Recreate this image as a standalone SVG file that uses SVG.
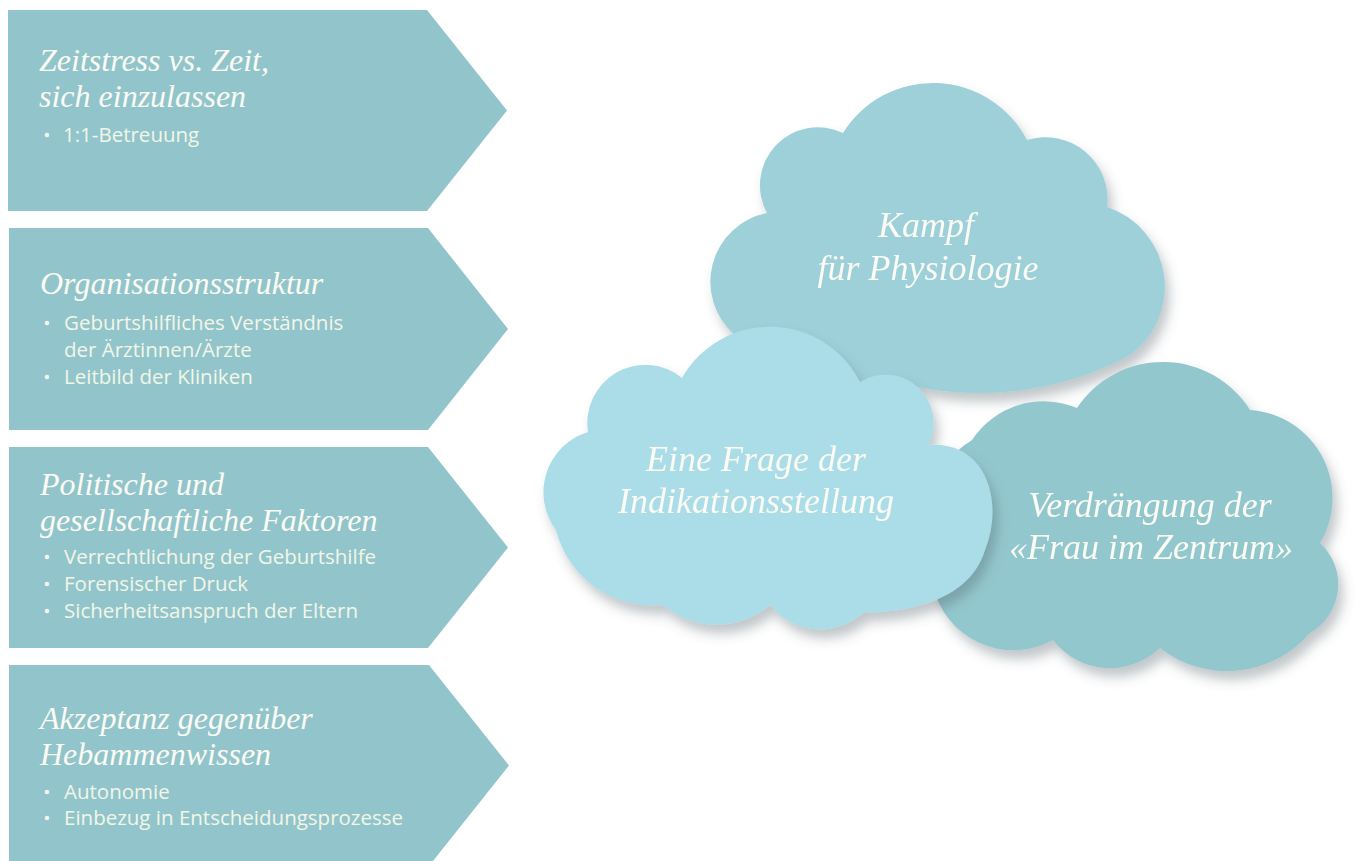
<svg xmlns="http://www.w3.org/2000/svg" width="1363" height="861" viewBox="0 0 1363 861">
<defs>
<style>
.arrow{fill:#92c5cb}
.title{font-family:"Liberation Serif",serif;font-style:italic;font-size:32px;fill:#fbfbf3}
.bul{font-family:"Open Sans","Noto Sans",sans-serif;font-size:20.5px;fill:#f3f6e6}
.dot{fill:#f3f6e6}
.ctext{font-family:"Liberation Serif",serif;font-style:italic;font-size:36px;fill:#fbfbf3;text-anchor:middle}
.c1{fill:#9dd0d9}
.c2{fill:#abdde8}
.c3{fill:#93c7ce}
</style>
<filter id="sh" x="-20%" y="-20%" width="140%" height="150%">
<feDropShadow dx="5" dy="9" stdDeviation="6" flood-color="#4f5f66" flood-opacity="0.35"/>
</filter>
</defs>
<rect width="1363" height="861" fill="#ffffff"/>

<g id="arrow1">
<polygon class="arrow" points="8,10 427,10 507,110.5 427,211 8,211"/>
<text class="title" x="39" y="71">Zeitstress vs. Zeit,<tspan x="39" dy="36">sich einzulassen</tspan></text>
<circle class="dot" cx="47" cy="135" r="2.3"/><text class="bul" x="63" y="142">1:1-Betreuung</text>
</g>

<g id="arrow2">
<polygon class="arrow" points="9,228 428,228 508,329 428,430 9,430"/>
<text class="title" x="40" y="294">Organisationsstruktur</text>
<circle class="dot" cx="47" cy="323" r="2.3"/><text class="bul" x="64" y="330">Geburtshilfliches Verständnis<tspan x="64" dy="27">der Ärztinnen/Ärzte</tspan></text>
<circle class="dot" cx="47" cy="377" r="2.3"/><text class="bul" x="64" y="384">Leitbild der Kliniken</text>
</g>

<g id="arrow3">
<polygon class="arrow" points="9,447 428,447 508,547.5 428,648 9,648"/>
<text class="title" x="40" y="495">Politische und<tspan x="40" dy="36">gesellschaftliche Faktoren</tspan></text>
<circle class="dot" cx="47" cy="557" r="2.3"/><text class="bul" x="64" y="564">Verrechtlichung der Geburtshilfe</text>
<circle class="dot" cx="47" cy="584" r="2.3"/><text class="bul" x="64" y="591">Forensischer Druck</text>
<circle class="dot" cx="47" cy="611" r="2.3"/><text class="bul" x="64" y="618">Sicherheitsanspruch der Eltern</text>
</g>

<g id="arrow4">
<polygon class="arrow" points="9,665 429,665 509,765.5 429,866 9,866"/>
<text class="title" x="40" y="729">Akzeptanz gegenüber<tspan x="40" dy="36">Hebammenwissen</tspan></text>
<circle class="dot" cx="47" cy="792" r="2.3"/><text class="bul" x="64" y="799">Autonomie</text>
<circle class="dot" cx="47" cy="818" r="2.3"/><text class="bul" x="64" y="825">Einbezug in Entscheidungsprozesse</text>
</g>

<g id="cloud-kampf" filter="url(#sh)">
<path class="c1" d="M735,335 A70,70 0 0 1 767,213 A58,58 0 0 1 843,133 A106,106 0 0 1 1027,140 A62,62 0 0 1 1107,207 A84,84 0 0 1 1127,357 A320,320 0 0 1 900,383 A220,220 0 0 1 735,335 Z"/>
<text class="ctext" x="926" y="237">Kampf<tspan x="928" dy="43">für Physiologie</tspan></text>
</g>

<g id="cloud-verdraengung" filter="url(#sh)">
<path class="c3" d="M972,440 A86,86 0 0 1 1077,408 A103,103 0 0 1 1250,410 A88,88 0 0 1 1320,543 A56,56 0 0 1 1310,633 A109,109 0 0 1 1160,648 A72,72 0 0 1 1053,640 A82,82 0 0 1 933,585 A110,110 0 0 1 972,440 Z"/>
<text class="ctext" x="1150" y="517">Verdrängung der<tspan x="1151" dy="42">«Frau im Zentrum»</tspan></text>
</g>

<g id="cloud-frage" filter="url(#sh)">
<path class="c2" d="M588,432 A58,58 0 0 1 682,378 A101,101 0 0 1 860,382 A48,48 0 0 1 928,445 C985,440 1005,500 985,550 C970,600 910,612 863,613 A64,64 0 0 1 770,605 A82,82 0 0 1 663,605 A100,100 0 0 1 556,530 A63,63 0 0 1 588,432 Z"/>
<text class="ctext" x="756" y="471">Eine Frage der<tspan x="756" dy="42">Indikationsstellung</tspan></text>
</g>
</svg>
